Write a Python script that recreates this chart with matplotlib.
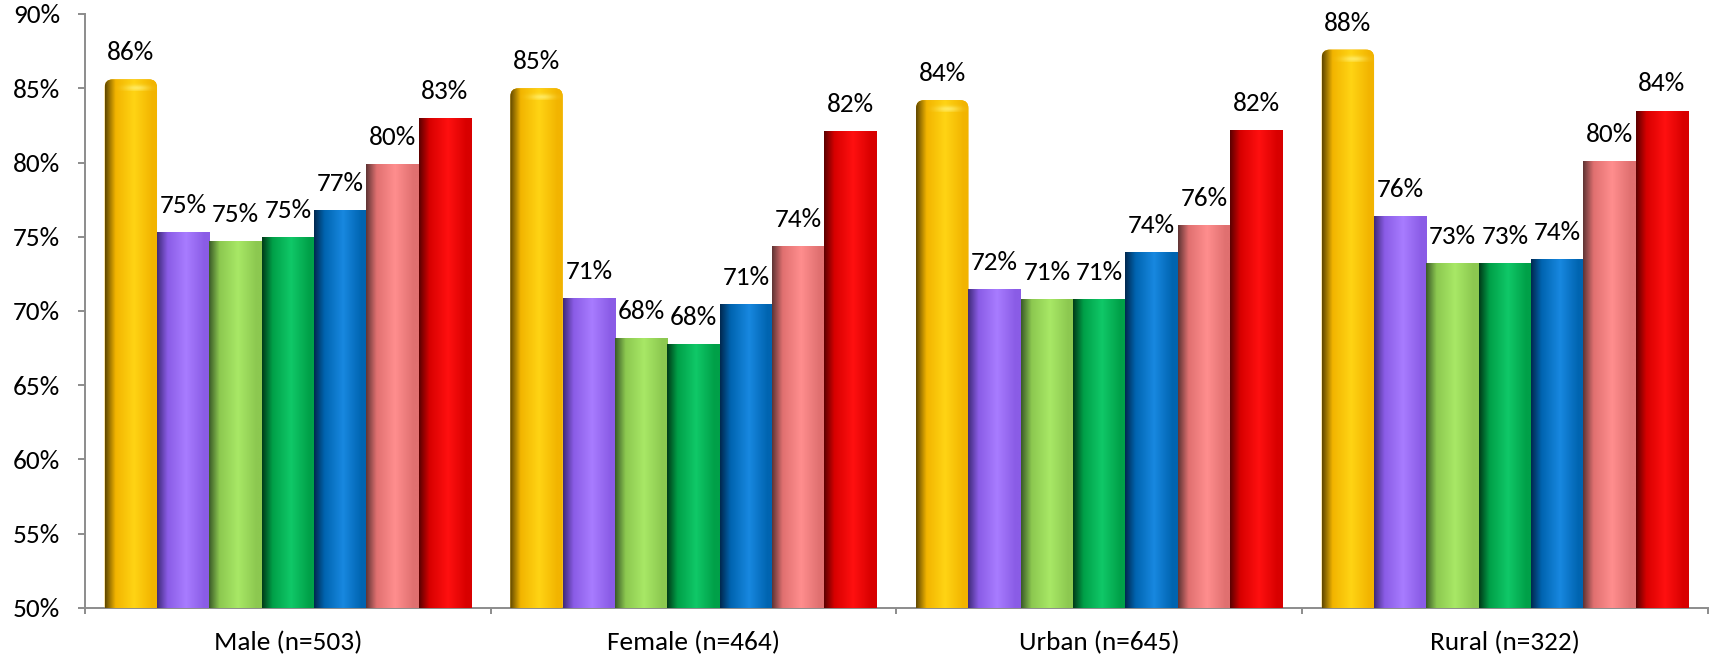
import numpy as np
import matplotlib
matplotlib.use("Agg")
import matplotlib.pyplot as plt
from matplotlib.colors import LinearSegmentedColormap, to_rgb
from matplotlib.patches import FancyBboxPatch
from matplotlib.ticker import FixedLocator, FuncFormatter, MultipleLocator

# ---- data -------------------------------------------------------------
groups = ["Male (n=503)", "Female (n=464)", "Urban (n=645)", "Rural (n=322)"]

gold_vals = [85.6, 85.0, 84.2, 87.6]
purple_vals = [75.3, 70.9, 71.5, 76.4]
lightgreen_vals = [74.7, 68.2, 70.8, 73.2]
darkgreen_vals = [75.0, 67.8, 70.8, 73.2]
blue_vals = [76.8, 70.5, 74.0, 73.5]
pink_vals = [79.9, 74.4, 75.8, 80.1]
red_vals = [83.0, 82.1, 82.2, 83.5]

series = [gold_vals, purple_vals, lightgreen_vals, darkgreen_vals,
          blue_vals, pink_vals, red_vals]

# (shadow edge, body, highlight) for the cylinder shading of each series
shades = [
    ("#5E4600", "#F2B400", "#FFD414"),
    ("#3E2A78", "#8A5CE6", "#A87CFF"),
    ("#3A5A28", "#8CC850", "#A8E866"),
    ("#003A18", "#00A048", "#10C868"),
    ("#00284E", "#0064B0", "#1888E0"),
    ("#5E3434", "#E07070", "#FF8E8E"),
    ("#5A0000", "#D80000", "#FF1010"),
]

y_min, y_max, y_step = 50, 90, 5

# ---- figure -----------------------------------------------------------
plt.rcParams['font.family'] = ['Carlito', 'DejaVu Sans']
FS = 19.6
W, H, DPI = 1712, 658, 100
fig = plt.figure(figsize=(W / DPI, H / DPI), dpi=DPI)
ax_l, ax_r, ax_t, ax_b = 85, 1707.7, 14, 608
ax = fig.add_axes([ax_l / W, (H - ax_b) / H, (ax_r - ax_l) / W, (ax_b - ax_t) / H])

n_groups = len(groups)
x = np.arange(n_groups)
ax.set_xlim(-0.5, n_groups - 0.5)
ax.set_ylim(y_min, y_max)

px_per_x = (ax_r - ax_l) / n_groups
px_per_y = (ax_b - ax_t) / (y_max - y_min)

bar_w = 0.129
n_series = len(series)
grad = np.linspace(0, 1, 256).reshape(1, -1)


def label(v):
    return f"{int(np.floor(v + 0.5))}%"


for k, (vals, (dark, body, hi)) in enumerate(zip(series, shades)):
    cmap = LinearSegmentedColormap.from_list(
        f"shade{k}", [(0.0, dark), (0.2, body), (0.55, hi), (0.9, body), (1.0, body)])
    offs = (k - (n_series - 1) / 2) * bar_w
    bars = ax.bar(x + offs, vals, width=bar_w, color=body, linewidth=0, zorder=2)
    for rect, v in zip(bars, vals):
        x0 = rect.get_x()
        x1 = x0 + rect.get_width()
        clip = rect
        if k == 0:
            # rounded cap on the first series
            r_px = 8
            r = r_px / px_per_x
            asp = (r_px / px_per_y) / r
            rect.set_visible(False)
            clip = FancyBboxPatch((x0, 0), x1 - x0, v,
                                  boxstyle=f"round,pad=0,rounding_size={r}",
                                  mutation_aspect=asp, facecolor=body,
                                  linewidth=0, zorder=2)
            ax.add_patch(clip)
        im = ax.imshow(grad, extent=(x0, x1, y_min, v), aspect='auto',
                       cmap=cmap, interpolation='bilinear', zorder=3)
        im.set_clip_path(clip)
        if k == 0:
            # glossy highlight on the cap
            cap_h = 12 / px_per_y
            ny, nx = 40, 120
            yy = np.linspace(1, 0, ny)[:, None]
            xx = np.linspace(0, 1, nx)[None, :]
            alpha = 0.75 * np.exp(-((xx - 0.6) / 0.22) ** 2) * np.exp(-((yy - 0.25) / 0.25) ** 2)
            rgba = np.zeros((ny, nx, 4))
            rgba[..., :3] = to_rgb("#FFF27A")
            rgba[..., 3] = alpha
            hl = ax.imshow(rgba, extent=(x0, x1, v - cap_h, v), aspect='auto',
                           interpolation='bilinear', zorder=4)
            hl.set_clip_path(clip)
        ax.annotate(label(v), (rect.get_x() + rect.get_width() / 2, v),
                    xytext=(0, 13.7), textcoords='offset points',
                    ha='center', va='baseline', fontsize=FS, color='#000000',
                    zorder=5)

# ---- axes styling -----------------------------------------------------
axis_gray = '#8C8C8C'
for side in ('top', 'right'):
    ax.spines[side].set_visible(False)
for side in ('left', 'bottom'):
    ax.spines[side].set_color(axis_gray)
    ax.spines[side].set_linewidth(1.4)

ax.yaxis.set_major_locator(MultipleLocator(y_step))
ax.yaxis.set_major_formatter(FuncFormatter(lambda v, p: f"{int(round(v))}%"))
ax.tick_params(axis='y', direction='out', length=5, width=1.4, color=axis_gray,
               labelsize=FS, pad=13, labelcolor='#000000')

ax.set_xticks(x)
ax.set_xticklabels(groups)
ax.xaxis.set_minor_locator(FixedLocator(np.arange(n_groups + 1) - 0.5))
ax.tick_params(axis='x', which='major', length=0, labelsize=FS, pad=16.5,
               labelcolor='#000000')
ax.tick_params(axis='x', which='minor', direction='out', length=4.5, width=1.4,
               color=axis_gray)

fig.savefig("out.png", dpi=DPI, facecolor='white')
